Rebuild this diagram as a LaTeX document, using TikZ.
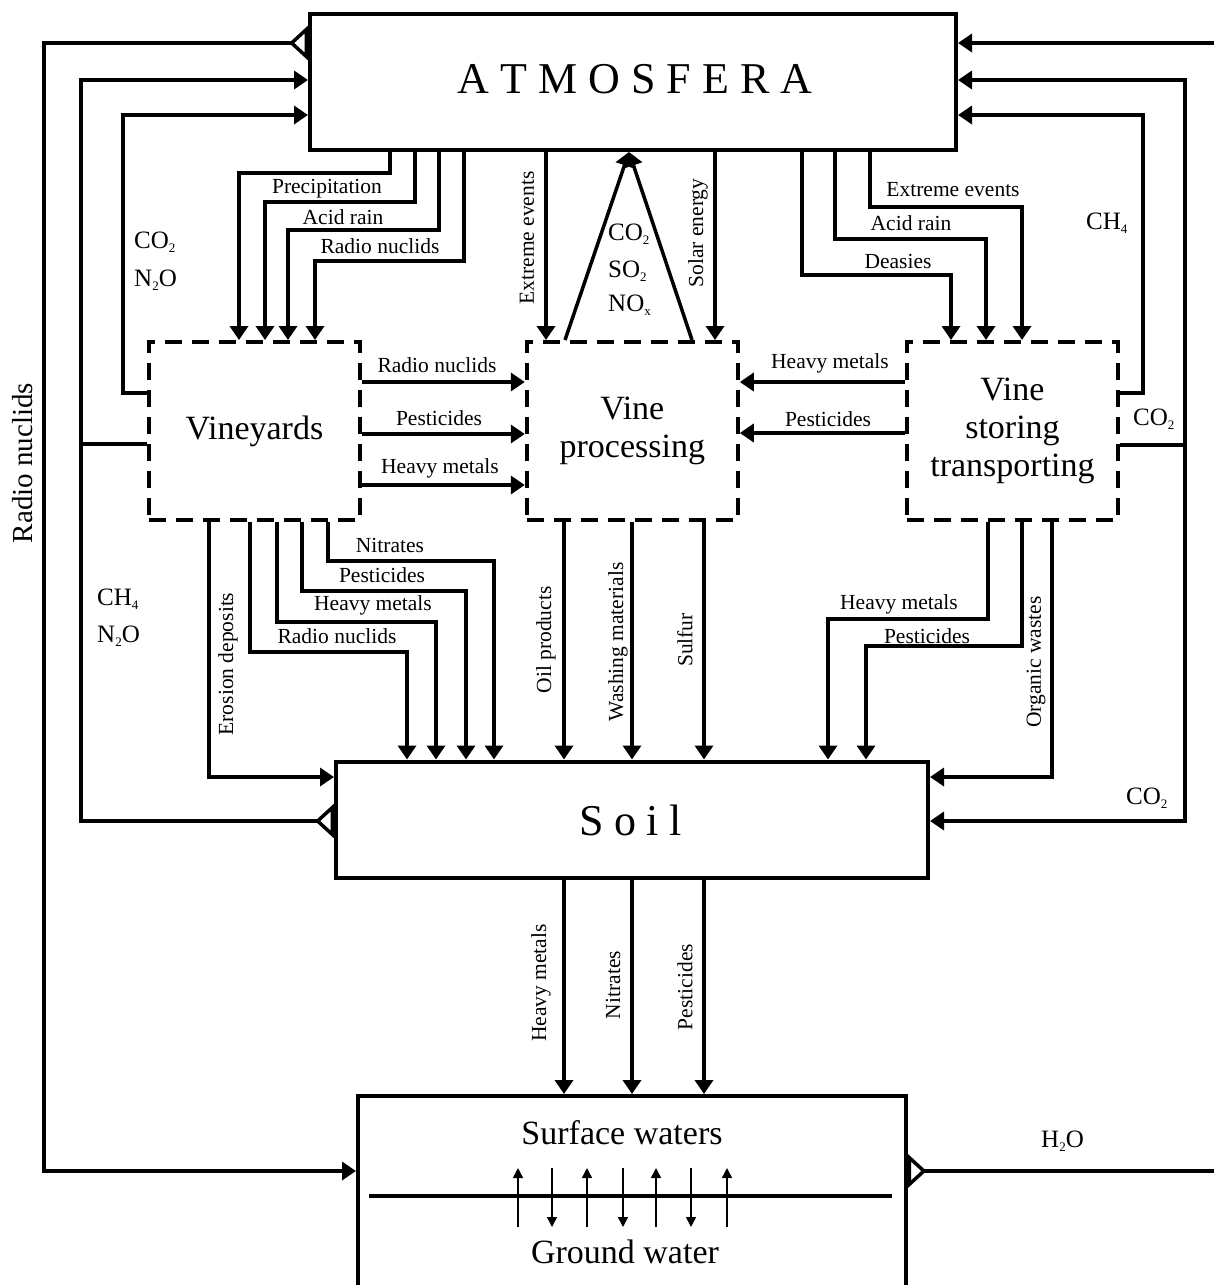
\documentclass[tikz,border=0pt]{standalone}
\usepackage{fontspec}
\setmainfont{Liberation Serif}
\usetikzlibrary{arrows.meta,calc}
\newcommand\lsp{\hspace{11pt}}
\newcommand\ssp{\hspace{10.5pt}}
\newcommand\chemsub[1]{\raisebox{-3.5pt}{\fontsize{13}{14}\selectfont #1}}
\begin{document}
\begin{tikzpicture}[x=1pt,y=-1pt,
 mainbox/.style={draw, line width=4pt, inner sep=0pt},
 dbox/.style={draw, line width=4pt, dash pattern=on 17pt off 10pt, inner sep=0pt,
   minimum width=211pt, minimum height=178pt, align=center, font=\fontsize{34}{38}\selectfont},
 conn/.style={line width=3.5pt, -{Triangle[length=14pt,width=18pt]}},
 joinline/.style={line width=3.5pt},
 tailconn/.style={line width=3.5pt, {Triangle[open,reversed,length=19pt,width=34pt]}-{Triangle[length=14pt,width=18pt]}},
 lbl/.style={font=\fontsize{21.5}{24}\selectfont, inner sep=0pt},
 vlbl/.style={lbl, rotate=90},
 gas/.style={font=\fontsize{25}{27}\selectfont, inner sep=0pt, anchor=west},
 big/.style={font=\fontsize{44}{48}\selectfont, inner sep=0pt},
 mid/.style={font=\fontsize{34}{38}\selectfont, inner sep=0pt},
 smallarr/.style={line width=1.5pt, -{Triangle[length=10pt,width=10pt]}}
]
\useasboundingbox (0,0) rectangle (1213,1285);

% ---------- main boxes ----------
\node[mainbox, minimum width=646pt, minimum height=136pt] (atm) at (633,82) {};
\node[big, anchor=base] (atmT) at (635,93) {A\lsp T\lsp M\lsp O\lsp S\lsp F\lsp E\lsp R\lsp A};

\node[dbox] (vy) at (254.4,431) {Vineyards};
\node[dbox] (vp) at (632.3,431) {Vine\\processing};
\node[dbox] (st) at (1012.5,431) {Vine\\storing\\transporting};

\node[mainbox, minimum width=592pt, minimum height=116.5pt] (soil) at (632,819.75) {};
\node[big, anchor=base] (soilT) at (630.5,835) {S\ssp o\ssp i\ssp l};

\node[mainbox, minimum width=547.5pt, minimum height=204pt] (sw) at (631.75,1198) {};
\node[mid] (swT) at (622,1133) {Surface waters};
\node[mid] (gwT) at (625,1252) {Ground water};

% ---------- surface / ground interface ----------
\draw[line width=4pt] (369,1196) -- (892,1196);
\foreach \xx in {518,587,656,727} \draw[smallarr] (\xx,1227) -- (\xx,1168);
\foreach \xx in {552,623,691} \draw[smallarr] (\xx,1168) -- (\xx,1227);

% ---------- left side loops ----------
\draw[tailconn] (atm.west |- 0,43) -| (44,1171) -- (sw.west |- 0,1171);
\draw[tailconn] (soil.west |- 0,821) -| (81,80) -- (atm.west |- 0,80);
\coordinate (jL) at (81,444);
\draw[joinline] (vy.west |- 0,444) -- (jL);
\draw[conn] (vy.west |- 0,393) -| (123,115) -- (atm.west |- 0,115);

% ---------- right side loops ----------
\draw[tailconn] (sw.east |- 0,1171) -| (1216,43) -- (atm.east |- 0,43);
\draw[conn] (st.east |- 0,445) -| (1185,80) -- (atm.east |- 0,80);
\coordinate (jR) at (1185,445);
\draw[conn] (jR) |- (soil.east |- 0,821);
\draw[conn] (st.east |- 0,393) -| (1143,115) -- (atm.east |- 0,115);

% ---------- atmosphere -> vineyards ----------
\draw[conn] (atm.south -| 390,0) |- (239,173) -- (vy.north -| 239,0);
\draw[conn] (atm.south -| 415,0) |- (265,202) -- (vy.north -| 265,0);
\draw[conn] (atm.south -| 439,0) |- (288,230) -- (vy.north -| 288,0);
\draw[conn] (atm.south -| 464,0) |- (315,261) -- (vy.north -| 315,0);

% ---------- atmosphere <-> processing ----------
\draw[conn] (atm.south -| 546,0) -- (vp.north -| 546,0);
\draw[conn] (atm.south -| 715,0) -- (vp.north -| 715,0);
\draw[conn] (vp.north -| 565,0) -- (atm.south -| 629,0);
\draw[conn] (vp.north -| 692,0) -- (atm.south -| 629,0);

% ---------- atmosphere -> storing ----------
\draw[conn] (atm.south -| 802,0) |- (951,275) -- (st.north -| 951,0);
\draw[conn] (atm.south -| 835,0) |- (986,239) -- (st.north -| 986,0);
\draw[conn] (atm.south -| 870,0) |- (1022,207) -- (st.north -| 1022,0);

% ---------- horizontal flows to processing ----------
\draw[conn] (vy.east |- 0,382) -- (vp.west |- 0,382);
\draw[conn] (vy.east |- 0,434) -- (vp.west |- 0,434);
\draw[conn] (vy.east |- 0,485) -- (vp.west |- 0,485);
\draw[conn] (st.west |- 0,382) -- (vp.east |- 0,382);
\draw[conn] (st.west |- 0,433) -- (vp.east |- 0,433);

% ---------- vineyards -> soil ----------
\draw[conn] (vy.south -| 209,0) |- (soil.west |- 0,777);
\draw[conn] (vy.south -| 250,0) |- (407,652) -- (soil.north -| 407,0);
\draw[conn] (vy.south -| 277,0) |- (436,622) -- (soil.north -| 436,0);
\draw[conn] (vy.south -| 302,0) |- (466,591) -- (soil.north -| 466,0);
\draw[conn] (vy.south -| 328,0) |- (494,561) -- (soil.north -| 494,0);

% ---------- processing -> soil ----------
\draw[conn] (vp.south -| 564,0) -- (soil.north -| 564,0);
\draw[conn] (vp.south -| 632,0) -- (soil.north -| 632,0);
\draw[conn] (vp.south -| 704,0) -- (soil.north -| 704,0);

% ---------- storing -> soil ----------
\draw[conn] (st.south -| 988,0) |- (828,619) -- (soil.north -| 828,0);
\draw[conn] (st.south -| 1022,0) |- (866,646) -- (soil.north -| 866,0);
\draw[conn] (st.south -| 1052,0) |- (soil.east |- 0,777);

% ---------- soil -> surface waters ----------
\draw[conn] (soil.south -| 564,0) -- (sw.north -| 564,0);
\draw[conn] (soil.south -| 632,0) -- (sw.north -| 632,0);
\draw[conn] (soil.south -| 704,0) -- (sw.north -| 704,0);

% ---------- labels ----------
\node[lbl] (lPrec) at (327,189) {Precipitation};
\node[lbl] (lAcid1) at (343,217) {Acid rain};
\node[lbl] (lRad1) at (380,246) {Radio nuclids};
\node[vlbl] (lExt1) at (527,238) {Extreme events};
\node[vlbl] (lSol) at (698,233) {Solar energy};
\node[gas] (gCO2m) at (608,234) {CO\chemsub{2}};
\node[gas] (gSO2m) at (608,271) {SO\chemsub{2}};
\node[gas] (gNOx) at (608,305) {NO\chemsub{x}};
\node[lbl] (lExt2) at (953,190) {Extreme events};
\node[lbl] (lAcid2) at (911,223) {Acid rain};
\node[lbl] (lDeas) at (898,261) {Deasies};
\node[gas] (gCH4r) at (1086,223) {CH\chemsub{4}};
\node[gas] (gCO2l) at (134,242) {CO\chemsub{2}};
\node[gas] (gN2Ol) at (134,280) {N\chemsub{2}O};
\node[vlbl, font=\fontsize{29}{31}\selectfont] (lRadL) at (23,463) {Radio nuclids};
\node[gas] (gCH4l) at (97,599) {CH\chemsub{4}};
\node[gas] (gN2Ol2) at (97,636) {N\chemsub{2}O};
\node[gas] (gCO2r) at (1133,419) {CO\chemsub{2}};
\node[gas] (gCO2s) at (1126,798) {CO\chemsub{2}};
\node[gas] (gH2O) at (1041,1141) {H\chemsub{2}O};

\node[lbl] (lRad2) at (437,365) {Radio nuclids};
\node[lbl] (lPes1) at (439,418) {Pesticides};
\node[lbl] (lHm1) at (440,468) {Heavy metals};
\node[lbl] (lHm2) at (830,363) {Heavy metals};
\node[lbl] (lPes2) at (828,419) {Pesticides};

\node[lbl] (lNit1) at (390,545) {Nitrates};
\node[lbl] (lPes3) at (382,575) {Pesticides};
\node[lbl] (lHm3) at (373,605) {Heavy metals};
\node[lbl] (lRad3) at (337,636) {Radio nuclids};
\node[vlbl] (lEro) at (228,664) {Erosion deposits};
\node[vlbl] (lOil) at (546,640) {Oil products};
\node[vlbl] (lWash) at (618,642) {Washing materials};
\node[vlbl] (lSulf) at (685,640) {Sulfur};
\node[lbl] (lHm4) at (899,604) {Heavy metals};
\node[lbl] (lPes4) at (927,636) {Pesticides};
\node[vlbl] (lOrg) at (1036,662) {Organic wastes};

\node[vlbl] (lHm5) at (541,983) {Heavy metals};
\node[vlbl] (lNit2) at (613,985) {Nitrates};
\node[vlbl] (lPes5) at (685,987) {Pesticides};
\end{tikzpicture}
\end{document}
